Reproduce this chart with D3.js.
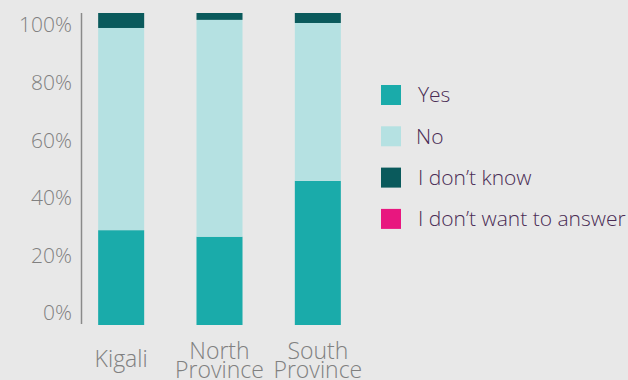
<!DOCTYPE html>
<html>
<head>
<meta charset="utf-8">
<script src="https://cdn.jsdelivr.net/npm/d3@7"></script>
<style>
  body { margin: 0; background: #e8e8e8; }
  svg { display: block; font-family: "Open Sans", Lato, sans-serif; }
</style>
</head>
<body>
<svg id="chart"></svg>
<script>
// data
const regions = ["Kigali", "North Province", "South Province"];
const answers = ["Yes", "No", "I don’t know", "I don’t want to answer"];
const yesVals = [30.4, 28.3, 46.2];
const noVals = [64.8, 69.5, 50.6];
const dkVals = [4.8, 2.2, 3.2];
const noAnswerVals = [0, 0, 0];
const yTicks = [0, 20, 40, 60, 80, 100];

const colors = ["#1aabaa", "#b5e1e2", "#0a5a5c", "#e8177f"];

// chart dimensions
const width = 628;
const height = 380;

const svg = d3.select("#chart")
  .attr("width", width)
  .attr("height", height);

svg.append("rect")
  .attr("width", width)
  .attr("height", height)
  .attr("fill", "#e8e8e8");

const rows = regions.map((r, i) => ({
  region: r,
  "Yes": yesVals[i],
  "No": noVals[i],
  "I don’t know": dkVals[i],
  "I don’t want to answer": noAnswerVals[i]
}));

const series = d3.stack().keys(answers)(rows);

const x = d3.scaleBand(regions, [72, 367])
  .paddingInner(0.532)
  .paddingOuter(0.266);

// bars fill from 325 to 13
const y = d3.scaleLinear([0, 100], [325, 13]);
// tick labels sit on a slightly compressed scale
const yLabel = d3.scaleLinear([0, 100], [313, 25]);

// bars
svg.append("g")
  .selectAll("g")
  .data(series)
  .join("g")
    .attr("fill", (d, i) => colors[i])
  .selectAll("rect")
  .data(d => d)
  .join("rect")
    .attr("x", d => x(d.data.region))
    .attr("y", d => y(d[1]))
    .attr("height", d => y(d[0]) - y(d[1]))
    .attr("width", x.bandwidth());

// y axis line
svg.append("line")
  .attr("x1", 81.5).attr("x2", 81.5)
  .attr("y1", y(100)).attr("y2", y(0) - 1)
  .attr("stroke", "#8a8a8a")
  .attr("stroke-width", 1.5);

// y tick labels
svg.append("g")
  .selectAll("text")
  .data(yTicks)
  .join("text")
    .attr("x", 72)
    .attr("y", d => yLabel(d))
    .attr("dy", "0.35em")
    .attr("text-anchor", "end")
    .attr("fill", "#808080")
    .attr("font-size", "21px")
    .attr("font-weight", 300)
    .text(d => d + "%");

// x labels
const xl = svg.append("g")
  .selectAll("text")
  .data(regions)
  .join("text")
    .attr("x", d => x(d) + x.bandwidth() / 2)
    .attr("y", d => d.includes(" ") ? 359 : 367)
    .attr("text-anchor", "middle")
    .attr("fill", "#808080")
    .attr("font-size", "23px")
    .attr("font-weight", 300);

xl.selectAll("tspan")
  .data(d => d.split(" "))
  .join("tspan")
    .attr("x", function() { return this.parentNode.getAttribute("x"); })
    .attr("dy", (d, i) => i ? 19 : 0)
    .text(d => d);

// legend
const legend = svg.append("g")
  .selectAll("g")
  .data(answers)
  .join("g")
    .attr("transform", (d, i) => `translate(381,${85 + i * 41.3})`);

legend.append("rect")
  .attr("width", 20)
  .attr("height", 20)
  .attr("fill", (d, i) => colors[i]);

legend.append("text")
  .attr("x", (d, i) => i === 1 ? 35 : 37)
  .attr("y", 10)
  .attr("dy", "0.35em")
  .attr("fill", "#4a2c55")
  .attr("font-size", "21px")
  .attr("font-weight", 300)
  .text(d => d);
</script>
</body>
</html>
